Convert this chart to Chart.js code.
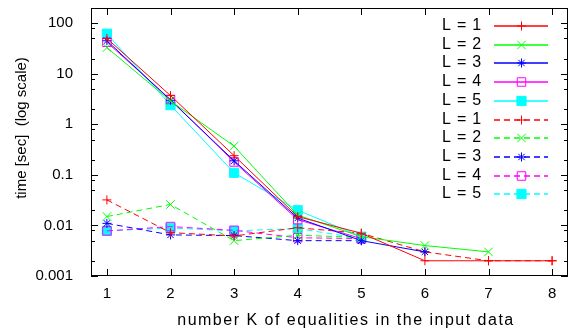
<!DOCTYPE html>
<html>
<head>
<meta charset="utf-8">
<script src="https://cdn.jsdelivr.net/npm/chart.js@4/dist/chart.umd.min.js"></script>
<style>
  body { margin: 0; background: #fff; }
  #wrap { width: 569px; height: 332px; }
</style>
</head>
<body>
<div id="wrap"><canvas id="timeChart"></canvas></div>
<script>
// datos
const kValues = [1, 2, 3, 4, 5, 6, 7, 8];
const yTicks = [0.001, 0.01, 0.1, 1, 10, 100];
const yMinorFactors = [2, 5, 8];
const seriesLabels = ['L = 1', 'L = 2', 'L = 3', 'L = 4', 'L = 5'];
const xTitle = 'number K of equalities in the input data';
const yTitle = 'time [sec]  (log scale)';

// lineas continuas
const solidL1 = [50, 3.7, 0.24, 0.015, 0.007, 0.002, 0.002, 0.002];
const solidL2 = [33, 2.9, 0.37, 0.016, 0.006, 0.004, 0.003];
const solidL3 = [45, 3.0, 0.19, 0.014, 0.005, 0.003];
const solidL4 = [42, 3.1, 0.18, 0.013, 0.0055];
const solidL5 = [62, 2.4, 0.11, 0.020, 0.006];

// lineas discontinuas
const dashedL1 = [0.032, 0.0072, 0.0062, 0.009, 0.007, 0.003, 0.002, 0.002];
const dashedL2 = [0.015, 0.026, 0.005, 0.0064, 0.0058];
const dashedL3 = [0.011, 0.0065, 0.0063, 0.005, 0.005];
const dashedL4 = [0.0078, 0.0095, 0.008, 0.0057, 0.0055];
const dashedL5 = [0.0078, 0.0089, 0.0078, 0.0087, 0.0055];

const colors = ['#ff0000', '#00ff00', '#0000ff', '#ff00ff', '#00ffff'];
const markers = [
    { style: 'cross', radius: 4.5, fill: false },
    { style: 'crossRot', radius: 6, fill: false },
    { style: 'star', radius: 4.5, fill: false },
    { style: 'rect', radius: 6, fill: false },
    { style: 'rect', radius: 6.5, fill: true }
];

function toPoints(values) {
    return values.map((v, i) => ({ x: kValues[i], y: v }));
}

function makeDataset(values, idx, dashed) {
    const m = markers[idx];
    return {
        label: seriesLabels[idx],
        data: toPoints(values),
        borderColor: colors[idx],
        backgroundColor: colors[idx],
        borderWidth: 1,
        borderDash: dashed ? [6, 4] : [],
        pointStyle: m.style,
        pointRadius: m.radius,
        pointHoverRadius: m.radius,
        pointBorderColor: colors[idx],
        pointBackgroundColor: m.fill ? colors[idx] : 'rgba(0,0,0,0)',
        pointBorderWidth: 1,
        fill: false,
        tension: 0
    };
}

const solidSeries = [solidL1, solidL2, solidL3, solidL4, solidL5];
const dashedSeries = [dashedL1, dashedL2, dashedL3, dashedL4, dashedL5];
const datasets = [];
solidSeries.forEach((s, i) => datasets.push(makeDataset(s, i, false)));
dashedSeries.forEach((s, i) => datasets.push(makeDataset(s, i, true)));

const FONT = 'Liberation Sans, Arial, sans-serif';

// sin relleno automatico de las escalas
function noScalePadding(s) {
    s.paddingTop = 0; s.paddingBottom = 0;
    s.paddingLeft = 0; s.paddingRight = 0;
}

// marco, marcas hacia dentro, titulos y leyenda al estilo gnuplot
const gnuplotFrame = {
    id: 'gnuplotFrame',
    afterDraw(chart) {
        const { ctx, chartArea: a, scales } = chart;
        const x = scales.x, y = scales.y;
        ctx.save();
        ctx.strokeStyle = '#000';
        ctx.lineWidth = 1;
        ctx.setLineDash([]);
        const seg = (x1, y1, x2, y2) => {
            ctx.beginPath(); ctx.moveTo(x1, y1); ctx.lineTo(x2, y2); ctx.stroke();
        };
        ctx.strokeRect(a.left + 0.5, a.top + 0.5, a.right - a.left - 1, a.bottom - a.top - 1);

        kValues.forEach(k => {
            const px = Math.round(x.getPixelForValue(k)) + 0.5;
            seg(px, a.bottom, px, a.bottom - 7);
            seg(px, a.top, px, a.top + 7);
        });
        yTicks.forEach(t => {
            const py = Math.round(y.getPixelForValue(t)) + 0.5;
            seg(a.left, py, a.left + 7, py);
            seg(a.right, py, a.right - 7, py);
            yMinorFactors.forEach(f => {
                const v = t * f;
                if (v > y.max) return;
                const pm = Math.round(y.getPixelForValue(v)) + 0.5;
                seg(a.left, pm, a.left + 4, pm);
                seg(a.right, pm, a.right - 4, pm);
            });
        });

        // titulo del eje X
        ctx.fillStyle = '#000';
        ctx.textAlign = 'center';
        ctx.textBaseline = 'middle';
        ctx.font = '16px ' + FONT;
        ctx.letterSpacing = '1.5px';
        ctx.fillText(xTitle, 346, 321);
        ctx.letterSpacing = '0px';

        // titulo del eje Y (gnuplot lo sube un poco)
        ctx.translate(21.5, 128);
        ctx.rotate(-Math.PI / 2);
        ctx.font = '15px ' + FONT;
        ctx.fillText(yTitle, 0, 0);
        ctx.restore();

        // leyenda
        chart.data.datasets.forEach((ds, i) => {
            const rowY = Math.round(26 + i * 18.7);
            ctx.save();
            ctx.font = '16px ' + FONT;
            ctx.letterSpacing = '0.8px';
            ctx.textAlign = 'right';
            ctx.textBaseline = 'middle';
            ctx.fillStyle = '#000';
            ctx.fillText(ds.label, 482, rowY);
            ctx.lineWidth = 1.5;
            ctx.strokeStyle = colors[i % 5];
            ctx.setLineDash(ds.borderDash);
            ctx.beginPath();
            ctx.moveTo(494, rowY);
            ctx.lineTo(548, rowY);
            ctx.stroke();
            ctx.setLineDash([]);
            ctx.lineWidth = 1;
            ctx.fillStyle = ds.pointBackgroundColor;
            Chart.helpers.drawPoint(ctx, {
                pointStyle: ds.pointStyle,
                radius: ds.pointRadius,
                rotation: 0,
                borderWidth: 1
            }, 521.5, rowY);
            ctx.restore();
        });
    }
};

const ctx = document.getElementById('timeChart').getContext('2d');
new Chart(ctx, {
    type: 'line',
    data: { datasets: datasets },
    options: {
        responsive: true,
        maintainAspectRatio: false,
        animation: false,
        layout: { autoPadding: false, padding: { top: 8, right: 1, left: 0, bottom: 0 } },
        plugins: { legend: { display: false }, tooltip: { enabled: false } },
        scales: {
            x: {
                type: 'linear',
                min: 0.75,
                max: 8.25,
                afterBuildTicks: s => { s.ticks = kValues.map(v => ({ value: v })); },
                afterFit: s => { s.height = 56; noScalePadding(s); },
                grid: { display: false, drawTicks: false },
                border: { display: false },
                ticks: { color: '#000', padding: 9, maxRotation: 0, font: { family: FONT, size: 15 } }
            },
            y: {
                type: 'logarithmic',
                min: 0.001,
                max: 200,
                afterBuildTicks: s => { s.ticks = yTicks.map(v => ({ value: v })); },
                afterFit: s => { s.width = 91; noScalePadding(s); },
                grid: { display: false, drawTicks: false },
                border: { display: false },
                ticks: {
                    color: '#000',
                    padding: 18,
                    font: { family: FONT, size: 15 },
                    callback: v => String(v)
                }
            }
        }
    },
    plugins: [gnuplotFrame]
});
</script>
</body>
</html>
